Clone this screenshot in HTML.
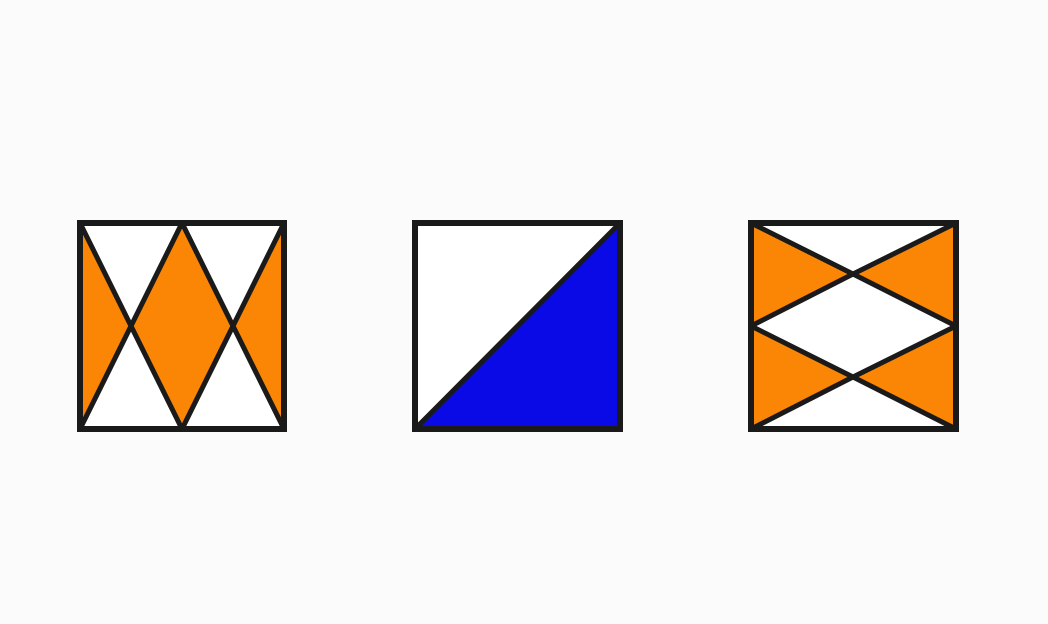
<!DOCTYPE html>
<html><head><style>
html,body{margin:0;padding:0;background:#fbfbfb;}
svg{display:block;}
</style></head>
<body>
<svg width="1048" height="624">
<g stroke="#1a1a1a" stroke-width="5" stroke-linejoin="round">
<rect x="80" y="223" width="204" height="206" fill="#fff"/>
<polygon points="182,223 233,326 182,429 131,326" fill="#fb8504"/>
<polygon points="80,223 131,326 80,429" fill="#fb8504"/>
<polygon points="284,223 233,326 284,429" fill="#fb8504"/>
<rect x="80" y="223" width="204" height="206" fill="none" stroke-width="6" stroke-linejoin="miter"/>
</g>
<g stroke="#1a1a1a" stroke-width="5" stroke-linejoin="round">
<rect x="415" y="223" width="205" height="206" fill="#fff"/>
<polygon points="415,429 620,223 620,429" fill="#0a0ae6"/>
<rect x="415" y="223" width="205" height="206" fill="none" stroke-width="6" stroke-linejoin="miter"/>
</g>
<g stroke="#1a1a1a" stroke-width="5" stroke-linejoin="round">
<rect x="751" y="223" width="205" height="206" fill="#fff"/>
<polygon points="751,223 853,274 751,326" fill="#fb8504"/>
<polygon points="956,223 853,274 956,326" fill="#fb8504"/>
<polygon points="751,326 853,377 751,429" fill="#fb8504"/>
<polygon points="956,326 853,377 956,429" fill="#fb8504"/>
<rect x="751" y="223" width="205" height="206" fill="none" stroke-width="6" stroke-linejoin="miter"/>
</g>
</svg>
</body></html>
